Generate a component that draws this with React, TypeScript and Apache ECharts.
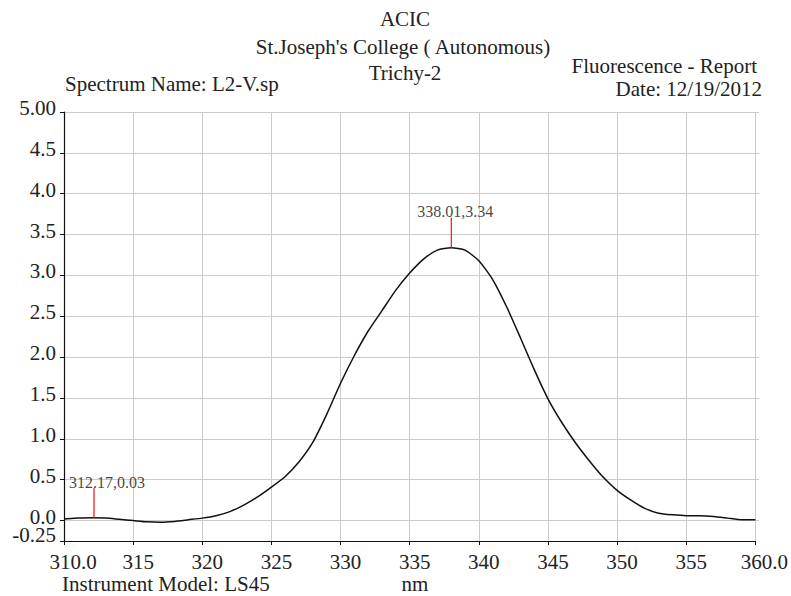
import React, { useEffect, useRef } from "react";
import * as echarts from "echarts";

const wavelengths = [
  310, 311, 312, 313, 314, 315, 316, 317, 318, 319, 320, 321, 322, 323, 324, 325,
  326, 327, 328, 329, 330, 331, 332, 333, 334, 335, 336, 337, 338, 339, 340, 341,
  342, 343, 344, 345, 346, 347, 348, 349, 350, 351, 352, 353, 354, 355, 356, 357,
  358, 359, 360,
];
const intensity = [
  0.02, 0.03, 0.035, 0.03, 0.015, 0.0, -0.015, -0.02, -0.01, 0.01, 0.03, 0.06, 0.11,
  0.19, 0.29, 0.41, 0.54, 0.72, 0.96, 1.3, 1.68, 2.02, 2.32, 2.57, 2.82, 3.03, 3.2,
  3.31, 3.34, 3.31, 3.18, 2.95, 2.62, 2.24, 1.85, 1.49, 1.2, 0.95, 0.73, 0.53, 0.37,
  0.25, 0.15, 0.09, 0.07, 0.06, 0.06, 0.05, 0.03, 0.01, 0.01,
];
const peakX = [312.17, 338.01];
const peakY = [0.03, 3.34];
const peakLabels = ["312.17,0.03", "338.01,3.34"];
const yMin = -0.25;
const yMax = 5;
const yGridStep = 0.5;
const yMinLabel = "-0.25";
const yTopLabel = "5.00";
const xTickLabels: Record<number, string> = {
  310: "310.0", 315: "315", 320: "320", 325: "325", 330: "330", 335: "335",
  340: "340", 345: "345", 350: "350", 355: "355", 360: "360.0",
};

const FONT = '"Liberation Serif", "Times New Roman", serif';

export default function App() {
  const ref = useRef<HTMLDivElement>(null);
  useEffect(() => {
    if (!ref.current) return;
    const chart = echarts.init(ref.current, null, { renderer: "svg" });
    const stemLen = 0.37;
    const markerSeries: any[] = [];
    peakX.forEach((px, i) => {
      markerSeries.push({
        type: "line",
        data: [[px, peakY[i]], [px, peakY[i] + stemLen]],
        symbol: "none",
        lineStyle: { color: "#f01020", width: 1.2 },
        silent: true,
        z: 3,
      });
      markerSeries.push({
        type: "scatter",
        data: [[px, peakY[i] + stemLen]],
        symbolSize: 1,
        itemStyle: { color: "rgba(0,0,0,0)" },
        label: {
          show: true,
          position: "top",
          distance: -3,
          offset: [i === 0 ? 13 : 4, 0],
          formatter: peakLabels[i],
          fontFamily: FONT,
          fontSize: 16,
          color: "#111",
        },
        silent: true,
        z: 4,
      });
    });

    const txt = (text: string, x: number, y: number, align: string) => ({
      type: "text",
      x,
      y,
      style: {
        text,
        font: `21px ${FONT}`,
        fill: "#222",
        align,
        verticalAlign: "middle",
        textAlign: align,
        textVerticalAlign: "middle",
      },
    });

    const top = 112;
    const bottom = 55;
    const plotH = 596 - top - bottom;
    const bottom2 = bottom + (plotH * (0 - yMin)) / (yMax - yMin);

    const labelStyle = { fontFamily: FONT, fontSize: 21, color: "#222" };

    chart.setOption({
      animation: false,
      backgroundColor: "#fff",
      grid: [
        { left: 64, right: 32, top, bottom },
        { left: 64, right: 32, top, bottom: bottom2 },
      ],
      xAxis: [
        {
          type: "value",
          gridIndex: 0,
          min: 310,
          max: 360,
          interval: 5,
          axisLine: { show: true, onZero: false, lineStyle: { color: "#111", width: 1.2 } },
          axisTick: { show: true, length: 4, lineStyle: { color: "#111" } },
          splitLine: { show: true, lineStyle: { color: "#cccccc", width: 1 } },
          axisLabel: {
            ...labelStyle,
            margin: 10,
            padding: [0, 0, 0, 10],
            formatter: (v: number) => {
              const s = xTickLabels[v] ?? String(v);
              return v === 310 || v === 360 ? `{e|${s}}` : s;
            },
            rich: { e: { ...labelStyle, padding: [0, 0, 0, 8] } },
          },
        },
        {
          type: "value",
          gridIndex: 1,
          min: 310,
          max: 360,
          show: false,
        },
      ],
      yAxis: [
        {
          type: "value",
          gridIndex: 0,
          min: yMin,
          max: yMax,
          interval: yMax - yMin,
          axisLine: { show: true, onZero: false, lineStyle: { color: "#111", width: 1.2 } },
          axisTick: { show: true, length: 4, lineStyle: { color: "#111" } },
          splitLine: { show: false },
          axisLabel: {
            ...labelStyle,
            showMinLabel: true,
            hideOverlap: false,
            margin: 8,
            verticalAlign: "bottom",
            lineHeight: 12,
            formatter: (v: number) => (Math.abs(v - yMin) < 1e-6 ? yMinLabel : ""),
          },
        },
        {
          type: "value",
          gridIndex: 1,
          min: 0,
          max: yMax,
          interval: yGridStep,
          axisLine: { show: false },
          axisTick: { show: true, length: 4, lineStyle: { color: "#111" } },
          splitLine: { show: true, lineStyle: { color: "#cccccc", width: 1 } },
          axisLabel: {
            ...labelStyle,
            showMinLabel: true,
            showMaxLabel: true,
            hideOverlap: false,
            margin: 8,
            verticalAlign: "bottom",
            lineHeight: 8,
            formatter: (v: number) => (Math.abs(v - yMax) < 1e-6 ? yTopLabel : v.toFixed(1)),
          },
        },
      ],
      series: [
        {
          type: "line",
          xAxisIndex: 0,
          yAxisIndex: 0,
          data: wavelengths.map((w, i) => [w, intensity[i]]),
          symbol: "none",
          smooth: 0.2,
          lineStyle: { color: "#111", width: 1.5 },
          silent: true,
          z: 2,
        },
        ...markerSeries,
      ],
      graphic: [
        txt("ACIC", 405, 19, "center"),
        txt("St.Joseph's College ( Autonomous)", 403, 47, "center"),
        txt("Trichy-2", 405, 73, "center"),
        txt("Spectrum Name: L2-V.sp", 65, 84, "left"),
        txt("Fluorescence - Report", 757, 66, "right"),
        txt("Date: 12/19/2012", 762, 89, "right"),
        txt("Instrument Model: LS45", 62, 584, "left"),
        txt("nm", 415, 584, "center"),
      ],
    });
    return () => chart.dispose();
  }, []);
  return (
    <div
      ref={ref}
      style={{ position: "fixed", left: 0, top: 0, width: 791, height: 596, background: "#fff" }}
    />
  );
}
